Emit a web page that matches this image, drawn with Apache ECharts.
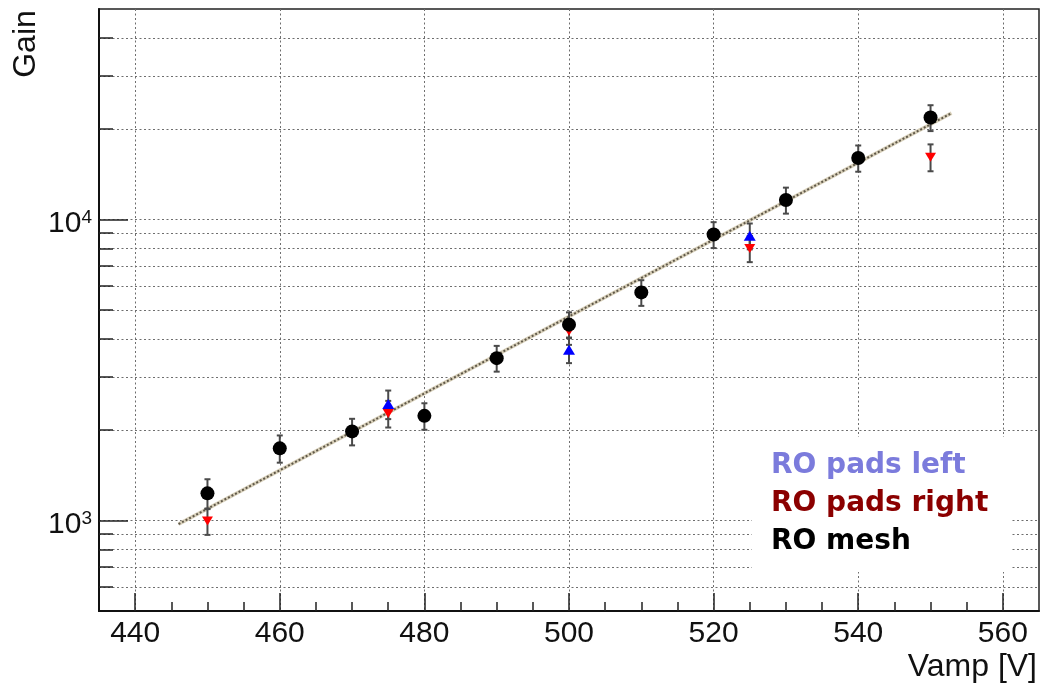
<!DOCTYPE html>
<html>
<head>
<meta charset="utf-8">
<title>Gain vs Vamp</title>
<script src="https://cdn.jsdelivr.net/npm/echarts@6/dist/echarts.min.js"></script>
<style>
  html, body { margin: 0; padding: 0; background: #fff; }
  #chart { width: 1047px; height: 688px; }
</style>
</head>
<body>
<div id="chart"></div>
<script>
// Gain measured on the readout mesh and on the left/right readout pads
const seriesNames = ['RO pads left', 'RO pads right', 'RO mesh'];

const meshVamp = [450, 460, 470, 480, 490, 500, 510, 520, 530, 540, 550];
const meshGain = [1230, 1735, 1975, 2225, 3460, 4470, 5720, 8910, 11600, 16000, 21800];
const meshErr  = [140, 180, 200, 225, 340, 440, 560, 880, 1150, 1600, 2150];

const rightVamp = [450, 475, 500, 525, 550];
const rightGain = [995, 2265, 4250, 8010, 16100];
const rightErr  = [100, 230, 420, 800, 1650];

const leftVamp = [475, 500, 525];
const leftGain = [2435, 3690, 8820];
const leftErr  = [265, 360, 870];

// exponential fit, drawn between its two end points
const fitVamp = [446.0, 552.9];
const fitGain = [972, 22540];

const xMajorTicks = [440, 460, 480, 500, 520, 540, 560];
const xMinorTicks = [445, 450, 455, 465, 470, 475, 485, 490, 495, 505, 510, 515, 525, 530, 535, 545, 550, 555];
const yMajorTicks = [1000, 10000];
const yGridTicks  = [600, 700, 800, 900, 1000, 2000, 3000, 4000, 5000, 6000, 7000, 8000, 9000, 10000, 20000, 30000, 40000];

const FONT = "'Liberation Sans', Arial, Helvetica, sans-serif";
const LEGEND_FONT = "'DejaVu Sans', Verdana, sans-serif";

function pairs(xs, ys) { return xs.map((x, i) => [x, ys[i]]); }
function errRows(xs, ys, es) { return xs.map((x, i) => [x, ys[i], ys[i] - es[i], ys[i] + es[i]]); }

function renderErrorBar(params, api) {
  const x = api.value(0);
  const lo = api.coord([x, api.value(2)]);
  const hi = api.coord([x, api.value(3)]);
  const cap = 3;
  const style = { stroke: '#4a4a4a', lineWidth: 2 };
  return {
    type: 'group',
    children: [
      { type: 'line', shape: { x1: lo[0], y1: lo[1], x2: hi[0], y2: hi[1] }, style },
      { type: 'line', shape: { x1: hi[0] - cap, y1: hi[1], x2: hi[0] + cap, y2: hi[1] }, style },
      { type: 'line', shape: { x1: lo[0] - cap, y1: lo[1], x2: lo[0] + cap, y2: lo[1] }, style }
    ]
  };
}

const gridLine = { show: true, lineStyle: { color: '#6e6e6e', width: 1, type: [2, 2.5] } };

const chart = echarts.init(document.getElementById('chart'), null, { renderer: 'canvas' });

chart.setOption({
  backgroundColor: '#fff',
  animation: false,
  grid: { left: 99, right: 8, top: 9, bottom: 77, show: true, borderColor: '#222', borderWidth: 1.5, backgroundColor: 'transparent' },
  xAxis: [
    {
      type: 'value', min: 435, max: 565, position: 'bottom',
      axisLine: { show: true, onZero: false, lineStyle: { color: '#111', width: 2 } },
      axisTick: { show: true, inside: true, length: 18, customValues: xMajorTicks, lineStyle: { color: '#222', width: 1.5 } },
      axisLabel: { show: true, customValues: xMajorTicks, margin: 8, fontSize: 30, fontFamily: FONT, color: '#111' },
      splitLine: gridLine
    },
    {
      type: 'value', min: 435, max: 565, position: 'bottom',
      axisLine: { show: false },
      axisTick: { show: true, inside: true, length: 9, customValues: xMinorTicks, lineStyle: { color: '#222', width: 1.5 } },
      axisLabel: { show: false },
      splitLine: { show: false }
    }
  ],
  yAxis: [
    {
      type: 'log', logBase: 10, min: 500, max: 50000, position: 'left',
      axisLine: { show: true, onZero: false, lineStyle: { color: '#111', width: 2 } },
      axisTick: { show: true, inside: true, length: 29, customValues: yMajorTicks, lineStyle: { color: '#222', width: 1.5 } },
      axisLabel: {
        show: true, customValues: yMajorTicks, margin: 7, padding: [8, 0, 0, 0],
        formatter: v => '{b|10}{s|' + Math.round(Math.log10(v)) + '}',
        rich: {
          b: { fontSize: 30, fontFamily: FONT, color: '#111' },
          s: { fontSize: 19, fontFamily: FONT, color: '#111', verticalAlign: 'top' }
        }
      },
      splitLine: { show: false }
    },
    {
      type: 'log', logBase: 10, min: 500, max: 50000, position: 'left',
      axisLine: { show: false },
      axisTick: { show: true, inside: true, length: 14, customValues: yGridTicks, lineStyle: { color: '#222', width: 1.5 } },
      axisLabel: { show: false },
      splitLine: gridLine
    }
  ],
  graphic: [
    { type: 'text', x: 26, y: 44, rotation: Math.PI / 2, style: { text: 'Gain', font: '32px ' + FONT, fill: '#111', align: 'center', verticalAlign: 'middle' } },
    { type: 'text', x: 1037, y: 667, style: { text: 'Vamp [V]', font: '32px ' + FONT, fill: '#111', align: 'right', verticalAlign: 'middle' } },
    { type: 'rect', z: 50, shape: { x: 752, y: 437, width: 259, height: 135 }, style: { fill: '#fff' } },
    { type: 'text', z: 51, x: 771, y: 466, style: { text: seriesNames[0], font: 'bold 28px ' + LEGEND_FONT, fill: '#7b7bdc', verticalAlign: 'middle' } },
    { type: 'text', z: 51, x: 771, y: 504, style: { text: seriesNames[1], font: 'bold 28px ' + LEGEND_FONT, fill: '#8b0000', verticalAlign: 'middle' } },
    { type: 'text', z: 51, x: 771, y: 542, style: { text: seriesNames[2], font: 'bold 28px ' + LEGEND_FONT, fill: '#000', verticalAlign: 'middle' } }
  ],
  series: [
    { name: 'fit', type: 'line', data: pairs(fitVamp, fitGain), symbol: 'none', z: 3, lineStyle: { color: '#d8d0ba', width: 3.5 } },
    { name: 'fit dots', type: 'line', data: pairs(fitVamp, fitGain), symbol: 'none', z: 4, lineStyle: { color: '#5e5748', width: 2, type: [2, 2] } },
    { name: seriesNames[0] + ' err', type: 'custom', renderItem: renderErrorBar, data: errRows(leftVamp, leftGain, leftErr), z: 5 },
    { name: seriesNames[1] + ' err', type: 'custom', renderItem: renderErrorBar, data: errRows(rightVamp, rightGain, rightErr), z: 5 },
    { name: seriesNames[2] + ' err', type: 'custom', renderItem: renderErrorBar, data: errRows(meshVamp, meshGain, meshErr), z: 5 },
    { name: seriesNames[0], type: 'scatter', data: pairs(leftVamp, leftGain), symbol: 'triangle', symbolSize: [12, 10], itemStyle: { color: '#0000ff', opacity: 1 }, z: 6 },
    { name: seriesNames[1], type: 'scatter', data: pairs(rightVamp, rightGain), symbol: 'triangle', symbolRotate: 180, symbolSize: [11, 9], itemStyle: { color: '#ff0000', opacity: 1 }, z: 7 },
    { name: seriesNames[2], type: 'scatter', data: pairs(meshVamp, meshGain), symbol: 'circle', symbolSize: 14, itemStyle: { color: '#000', opacity: 1 }, z: 8 }
  ]
});
</script>
</body>
</html>
